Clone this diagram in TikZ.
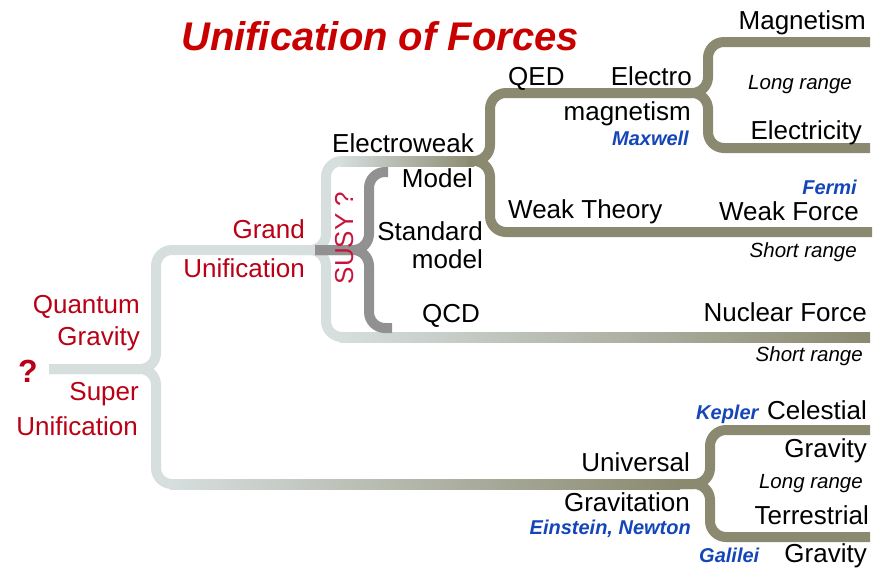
\documentclass[tikz,border=0pt]{standalone}
\usepackage{fontspec}
\setmainfont{Liberation Sans}
\definecolor{lightc}{RGB}{214,222,222}
\definecolor{olivec}{RGB}{139,138,112}
\definecolor{grayc}{RGB}{145,145,145}
\definecolor{titlered}{RGB}{200,0,0}
\definecolor{labred}{RGB}{185,0,20}
\definecolor{susyred}{RGB}{200,20,60}
\definecolor{nameblue}{RGB}{20,70,185}
\tikzset{
  lbl/.style={inner sep=0pt, font=\fontsize{26}{30}\selectfont},
  redlbl/.style={lbl, text=labred},
  who/.style={inner sep=0pt, font=\fontsize{20}{24}\selectfont\bfseries\itshape, text=nameblue},
  rng/.style={inner sep=0pt, font=\fontsize{20.5}{24}\selectfont\itshape},
  ln/.style={line width=10pt, rounded corners=16pt},
}
\begin{document}
\begin{tikzpicture}[x=1pt,y=-1pt]
\path[use as bounding box] (0,0) rectangle (881,568);
% light branches
\draw[ln, lightc] (49,369) -- (156,369) -- (156,250) -- (326,250) -- (326,161) -- (346,161);
\draw[ln, lightc] (49,369) -- (156,369) -- (156,484) -- (176,484);
\draw[ln, lightc] (290,250) -- (326,250) -- (326,337) -- (346,337);
% gradient parts
\shade[left color=lightc, right color=olivec] (340,156) rectangle (474,166);
\shade[left color=lightc, right color=olivec] (340,332) rectangle (870,342);
\shade[left color=lightc, right color=olivec] (170,479) rectangle (680,489);
% olive branches
\draw[ln, olivec] (468,161) -- (490,161) -- (490,93) -- (708,93) -- (708,42) -- (870,42);
\draw[ln, olivec] (680,93) -- (708,93) -- (708,148) -- (870,148);
\draw[ln, olivec] (468,161) -- (490,161) -- (490,232) -- (872,232);
\draw[ln, olivec] (676,484) -- (710,484) -- (710,430) -- (870,430);
\draw[ln, olivec] (676,484) -- (710,484) -- (710,537) -- (870,537);
% standard model bracket
\draw[ln, grayc] (315,250) -- (369,250) -- (369,172) -- (388,172);
\draw[ln, grayc] (315,250) -- (369,250) -- (369,328) -- (392,328);
% title
\node[inner sep=0pt, anchor=base west, text=titlered, font=\fontsize{40}{48}\selectfont\bfseries\itshape] (title) at (181,50) {Unification of Forces};
% labels
\node[lbl, anchor=base east] (mag) at (866,29) {Magnetism};
\node[rng, anchor=base west] (lr1) at (748,89) {Long range};
\node[lbl, anchor=base east] (elec) at (862,139) {Electricity};
\node[lbl, anchor=base west] (qed) at (508,85) {QED};
\node[lbl, anchor=base east] (electro) at (692,85) {Electro};
\node[lbl, anchor=base east] (magn) at (691,120) {magnetism};
\node[who, anchor=base east] (maxw) at (689,145) {Maxwell};
\node[lbl, anchor=base east] (ew) at (474,152) {Electroweak};
\node[lbl, anchor=base east] (model) at (473,187) {Model};
\node[lbl, anchor=base east] (std) at (483,240) {Standard};
\node[lbl, anchor=base east] (smodel) at (483,268) {model};
\node[lbl, anchor=base east] (qcd) at (480,322) {QCD};
\node[who, anchor=base east] (fermi) at (857,194) {Fermi};
\node[lbl, anchor=base east] (wforce) at (859,220) {Weak Force};
\node[lbl, anchor=base west] (wth) at (508,218) {Weak Theory};
\node[rng, anchor=base east] (sr1) at (857,257) {Short range};
\node[lbl, anchor=base east] (nuc) at (867,321) {Nuclear Force};
\node[rng, anchor=base east] (sr2) at (863,361) {Short range};
\node[redlbl, anchor=base east] (grand) at (305,238) {Grand};
\node[redlbl, anchor=base east] (unif) at (305,277) {Unification};
\node[redlbl, anchor=base east] (quant) at (140,313) {Quantum};
\node[redlbl, anchor=base east] (qgrav) at (140,345) {Gravity};
\node[inner sep=0pt, anchor=base west, text=labred, font=\fontsize{32}{36}\selectfont\bfseries] (qmark) at (18,382) {?};
\node[redlbl, anchor=base east] (super) at (139,400) {Super};
\node[redlbl, anchor=base east] (sunif) at (138,435) {Unification};
\node[lbl, text=susyred, rotate=90, anchor=base] (susy) at (353,238) {SUSY ?};
\node[who, anchor=base west] (kepler) at (696,419) {Kepler};
\node[lbl, anchor=base east] (cel) at (867,419) {Celestial};
\node[lbl, anchor=base east] (grav1) at (867,457) {Gravity};
\node[rng, anchor=base east] (lr2) at (863,488) {Long range};
\node[lbl, anchor=base east] (univ) at (690,471) {Universal};
\node[lbl, anchor=base east] (gravit) at (690,511) {Gravitation};
\node[who, anchor=base east] (einst) at (691,534) {Einstein, Newton};
\node[lbl, anchor=base east] (terr) at (869,524) {Terrestrial};
\node[who, anchor=base west] (galilei) at (699,562) {Galilei};
\node[lbl, anchor=base east] (grav2) at (867,562) {Gravity};
\end{tikzpicture}
\end{document}
